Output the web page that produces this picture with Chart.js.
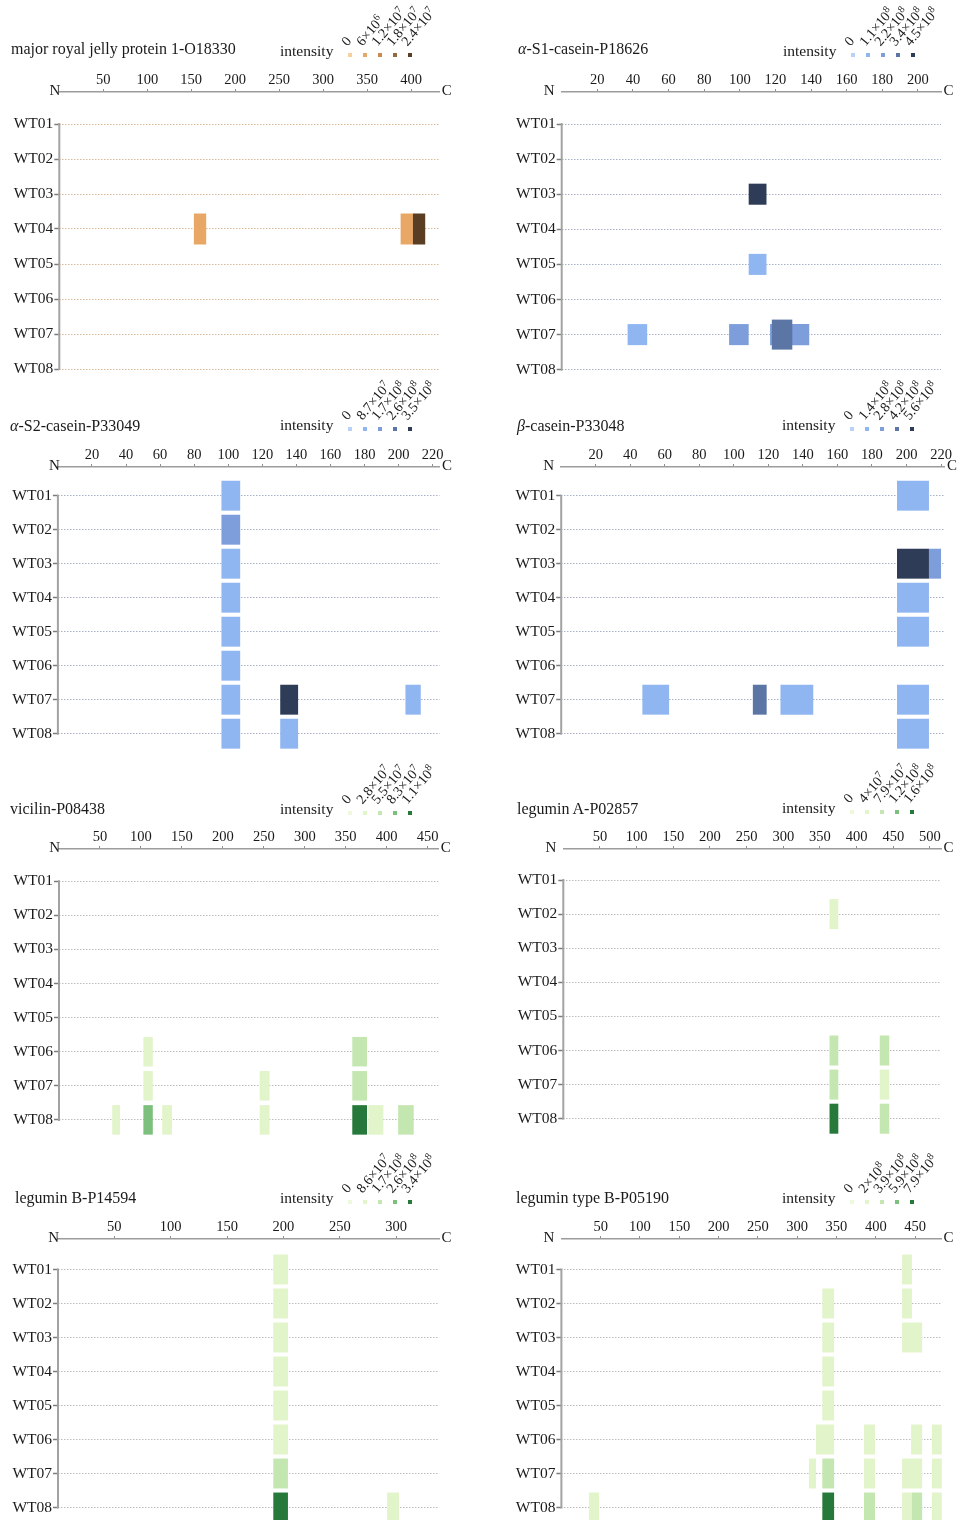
<!DOCTYPE html>
<html lang="en">
<head>
<meta charset="UTF-8">
<title>Peptide coverage per sample</title>
<script src="https://cdn.jsdelivr.net/npm/chart.js@4"></script>
<style>
  html, body { margin: 0; padding: 0; background: #fff; overflow: hidden; }
  body { width: 959px; height: 1520px; position: relative; font-family: 'Liberation Serif', 'Times New Roman', serif; color: #1a1a1a; }
  canvas { position: absolute; }
  .title { position: absolute; font-size: 16px; line-height: 18px; white-space: nowrap; }
  .key { position: absolute; font-size: 15.5px; line-height: 18px; white-space: nowrap; }
  .dot { position: absolute; width: 4px; height: 4px; }
  .lvl { position: absolute; font-size: 14px; line-height: 13px; white-space: nowrap;
         transform-origin: 0 100%; transform: rotate(-50deg); }
  .lvl sup { font-size: 10px; line-height: 0; vertical-align: 5px; }
</style>
</head>
<body>
<script>
// samples (rows)
const rows = ['WT01', 'WT02', 'WT03', 'WT04', 'WT05', 'WT06', 'WT07', 'WT08'];

// peptide = [sample, first residue, last residue, intensity level 1-4]

// major royal jelly protein 1 - O18330
const mrjpTicks = [50, 100, 150, 200, 250, 300, 350, 400];
const mrjpLength = 432;
const mrjpIntensity = [0, 6e6, 1.2e7, 1.8e7, 2.4e7];
const mrjpPeptides = [
  ['WT04', 153, 167, 1],
  ['WT04', 388, 402, 1],
  ['WT04', 402, 416, 4]
];

// alpha-S1-casein - P18626
const as1Ticks = [20, 40, 60, 80, 100, 120, 140, 160, 180, 200];
const as1Length = 213;
const as1Intensity = [0, 1.1e8, 2.2e8, 3.4e8, 4.5e8];
const as1Peptides = [
  ['WT03', 105, 115, 4],
  ['WT05', 105, 115, 1],
  ['WT07', 37, 48, 1],
  ['WT07', 94, 105, 2],
  ['WT07', 117, 139, 2],
  ['WT07', 118, 129.5, 3]
];

// alpha-S2-casein - P33049
const as2Ticks = [20, 40, 60, 80, 100, 120, 140, 160, 180, 200, 220];
const as2Length = 224;
const as2Intensity = [0, 8.7e7, 1.7e8, 2.6e8, 3.5e8];
const as2Peptides = [
  ['WT01', 96, 107, 1],
  ['WT02', 96, 107, 2],
  ['WT03', 96, 107, 1],
  ['WT04', 96, 107, 1],
  ['WT05', 96, 107, 1],
  ['WT06', 96, 107, 1],
  ['WT07', 96, 107, 1],
  ['WT07', 130.5, 141, 4],
  ['WT07', 204, 213, 1],
  ['WT08', 96, 107, 1],
  ['WT08', 130.5, 141, 1]
];

// beta-casein - P33048
const bcnTicks = [20, 40, 60, 80, 100, 120, 140, 160, 180, 200, 220];
const bcnLength = 222;
const bcnIntensity = [0, 1.4e8, 2.8e8, 4.2e8, 5.6e8];
const bcnPeptides = [
  ['WT01', 194.5, 213, 1],
  ['WT03', 194.5, 213, 4],
  ['WT03', 213, 220, 2],
  ['WT04', 194.5, 213, 1],
  ['WT05', 194.5, 213, 1],
  ['WT07', 47, 62.5, 1],
  ['WT07', 111, 119, 3],
  ['WT07', 127, 146, 1],
  ['WT07', 194.5, 213, 1],
  ['WT08', 194.5, 213, 1]
];

// vicilin - P08438
const vicTicks = [50, 100, 150, 200, 250, 300, 350, 400, 450];
const vicLength = 463;
const vicIntensity = [0, 2.8e7, 5.5e7, 8.3e7, 1.1e8];
const vicPeptides = [
  ['WT06', 103, 114.5, 1],
  ['WT06', 358, 376, 2],
  ['WT07', 103, 114.5, 1],
  ['WT07', 245, 257, 1],
  ['WT07', 358, 376, 2],
  ['WT08', 65, 74.5, 1],
  ['WT08', 103, 114.5, 3],
  ['WT08', 126, 138, 1],
  ['WT08', 245, 257, 1],
  ['WT08', 358, 376, 4],
  ['WT08', 377.5, 396, 1],
  ['WT08', 414, 433, 2]
];

// legumin A - P02857
const legaTicks = [50, 100, 150, 200, 250, 300, 350, 400, 450, 500];
const legaLength = 515;
const legaIntensity = [0, 4e7, 7.9e7, 1.2e8, 1.6e8];
const legaPeptides = [
  ['WT02', 363, 375, 1],
  ['WT06', 363, 375, 2],
  ['WT06', 431.5, 444.5, 2],
  ['WT07', 363, 375, 2],
  ['WT07', 431.5, 444.5, 1],
  ['WT08', 363, 375, 4],
  ['WT08', 431.5, 444.5, 2]
];

// legumin B - P14594
const legbTicks = [50, 100, 150, 200, 250, 300];
const legbLength = 338;
const legbIntensity = [0, 8.6e7, 1.7e8, 2.6e8, 3.4e8];
const legbPeptides = [
  ['WT01', 191, 204, 1],
  ['WT02', 191, 204, 1],
  ['WT03', 191, 204, 1],
  ['WT04', 191, 204, 1],
  ['WT05', 191, 204, 1],
  ['WT06', 191, 204, 1],
  ['WT07', 191, 204, 2],
  ['WT08', 191, 204, 4],
  ['WT08', 292, 302.5, 1]
];

// legumin type B - P05190
const legtTicks = [50, 100, 150, 200, 250, 300, 350, 400, 450];
const legtLength = 483;
const legtIntensity = [0, 2e8, 3.9e8, 5.9e8, 7.9e8];
const legtPeptides = [
  ['WT01', 433.5, 446, 1],
  ['WT02', 332, 347, 1],
  ['WT02', 433.5, 446, 1],
  ['WT03', 332, 347, 1],
  ['WT03', 433.5, 459, 1],
  ['WT04', 332, 347, 1],
  ['WT05', 332, 347, 1],
  ['WT06', 324, 347, 1],
  ['WT06', 385, 399, 1],
  ['WT06', 445, 459, 1],
  ['WT06', 471.5, 484, 1],
  ['WT07', 315, 324, 1],
  ['WT07', 332, 347, 2],
  ['WT07', 385, 399, 1],
  ['WT07', 433.5, 459, 1],
  ['WT07', 471.5, 484, 1],
  ['WT08', 35, 48, 1],
  ['WT08', 332, 347, 4],
  ['WT08', 385, 399, 2],
  ['WT08', 433.5, 446, 1],
  ['WT08', 446, 459, 2],
  ['WT08', 471.5, 484, 1]
];

// colour ramps, index = intensity level
const orange = ['#f6cf9f', '#e9a766', '#cf8a52', '#98683f', '#5a3e23'];
const blue   = ['#b9d1f6', '#90b6f2', '#7d9edb', '#5b75a5', '#2f3c58'];
const green  = ['#eef9dc', '#e2f4c9', '#c4e6b0', '#7dbf7d', '#26793b'];

const FONT = "'Liberation Serif', 'Times New Roman', serif";
const AXIS_BAND = 40;   // room above the plot for the residue axis
const ROW_MAX = 7.5;

const panels = [
  { title: 'major royal jelly protein 1-O18330', ticks: mrjpTicks, length: mrjpLength, intensity: mrjpIntensity,
    peptides: mrjpPeptides, colors: orange, grid: '#d9b898',
    left: 0, width: 480, axisY: 92, firstRow: 124, rowGap: 35, plotLeft: 59.3, plotRight: 439.3,
    barPct: 0.886, titleX: 11, titleY: 50, keyX: 280, keyY: 55, nGap: -1 },
  { title: 'α-S1-casein-P18626', ticks: as1Ticks, length: as1Length, intensity: as1Intensity,
    peptides: as1Peptides, colors: blue, grid: '#a9b2c8',
    left: 480, width: 479, axisY: 92, firstRow: 124, rowGap: 35.1, plotLeft: 561.7, plotRight: 941,
    barPct: 0.6, tall: [5], tallPct: 0.855, titleX: 518, titleY: 50, keyX: 783, keyY: 55, nGap: 7 },
  { title: 'α-S2-casein-P33049', ticks: as2Ticks, length: as2Length, intensity: as2Intensity,
    peptides: as2Peptides, colors: blue, grid: '#a9b2c8',
    left: 0, width: 480, axisY: 467.3, firstRow: 496, rowGap: 34, plotLeft: 57.9, plotRight: 439.5,
    barPct: 0.88, titleX: 10, titleY: 427, keyX: 280, keyY: 429, nGap: -2 },
  { title: 'β-casein-P33048', ticks: bcnTicks, length: bcnLength, intensity: bcnIntensity,
    peptides: bcnPeptides, colors: blue, grid: '#a9b2c8',
    left: 480, width: 479, axisY: 467.3, firstRow: 496, rowGap: 34, plotLeft: 561.2, plotRight: 944.5,
    barPct: 0.88, titleX: 517, titleY: 427, keyX: 782, keyY: 429, nGap: 7 },
  { title: 'vicilin-P08438', ticks: vicTicks, length: vicLength, intensity: vicIntensity,
    peptides: vicPeptides, colors: green, grid: '#bcbcbc',
    left: 0, width: 480, axisY: 849, firstRow: 881.2, rowGap: 34.1, plotLeft: 59, plotRight: 438.3,
    barPct: 0.865, titleX: 10, titleY: 810, keyX: 280, keyY: 813, nGap: -1 },
  { title: 'legumin A-P02857', ticks: legaTicks, length: legaLength, intensity: legaIntensity,
    peptides: legaPeptides, colors: green, grid: '#bcbcbc',
    left: 480, width: 479, axisY: 848.5, firstRow: 879.5, rowGap: 34.1, plotLeft: 563.3, plotRight: 941,
    barPct: 0.88, titleX: 517, titleY: 810, keyX: 782, keyY: 812, nGap: 7 },
  { title: 'legumin B-P14594', ticks: legbTicks, length: legbLength, intensity: legbIntensity,
    peptides: legbPeptides, colors: green, grid: '#bcbcbc',
    left: 0, width: 480, axisY: 1238.5, firstRow: 1269, rowGap: 34, plotLeft: 58, plotRight: 439,
    barPct: 0.88, titleX: 15, titleY: 1199, keyX: 280, keyY: 1202, nGap: -1 },
  { title: 'legumin type B-P05190', ticks: legtTicks, length: legtLength, intensity: legtIntensity,
    peptides: legtPeptides, colors: green, grid: '#bcbcbc',
    left: 480, width: 479, axisY: 1238.5, firstRow: 1269, rowGap: 34, plotLeft: 561.4, plotRight: 941,
    barPct: 0.88, titleX: 516, titleY: 1199, keyX: 782, keyY: 1202, nGap: 7 }
];

function sci(v) {
  if (v === 0) return '0';
  const e = Math.floor(Math.log10(v) + 1e-9);
  const m = Math.round(v / Math.pow(10, e) * 10) / 10;
  return m + '×10<sup>' + e + '</sup>';
}

function addDiv(cls, html, left, top, extra) {
  const d = document.createElement('div');
  d.className = cls;
  d.innerHTML = html;
  d.style.left = left + 'px';
  d.style.top = top + 'px';
  if (extra) Object.assign(d.style, extra);
  document.body.appendChild(d);
  return d;
}

// vertical sample axis (only between first and last row) plus the N / C ends
const axisDecor = {
  id: 'axisDecor',
  beforeDatasetsDraw(chart, args, opts) {
    const { ctx, chartArea, scales: { x, y } } = chart;
    ctx.save();
    ctx.strokeStyle = '#a2a2a2';
    ctx.lineWidth = 2;
    ctx.beginPath();
    ctx.moveTo(chartArea.left, y.getPixelForValue(0) - 1);
    ctx.lineTo(chartArea.left, y.getPixelForValue(rows.length - 1) + 1);
    ctx.stroke();
    ctx.fillStyle = '#1a1a1a';
    ctx.font = '15px ' + FONT;
    ctx.textBaseline = 'alphabetic';
    ctx.textAlign = 'right';
    ctx.fillText('N', x.left - opts.nGap, chartArea.top + 3);
    ctx.textAlign = 'left';
    ctx.fillText('C', x.right + 2.5, chartArea.top + 3);
    ctx.restore();
  }
};

function drawPanel(p) {
  // header: title + intensity key
  addDiv('title', p.title.replace(/([αβ])/g, '<i>$1</i>'), p.titleX, p.titleY - 10);
  addDiv('key', 'intensity', p.keyX, p.keyY - 13);
  p.intensity.forEach((v, i) => {
    const cx = p.keyX + 70 + 15 * i;
    addDiv('dot', '', cx - 2, p.keyY - 2, { background: p.colors[i] });
    addDiv('lvl', sci(v), cx - 1, p.keyY - 7 - 13);
  });

  const yMin = -(p.firstRow - p.axisY) / p.rowGap;
  const plotH = (ROW_MAX - yMin) * p.rowGap;
  const h = Math.ceil(AXIS_BAND + plotH);
  const top = p.axisY - AXIS_BAND;

  const cv = document.createElement('canvas');
  cv.width = p.width;
  cv.height = h;
  cv.style.left = p.left + 'px';
  cv.style.top = top + 'px';
  cv.style.width = p.width + 'px';
  cv.style.height = h + 'px';
  document.body.insertBefore(cv, document.body.firstChild);

  const tall = p.tall || [];
  const makeSet = (keep, pct, order) => {
    const list = p.peptides.filter((_, i) => keep(i));
    return {
      data: list.map(([row, a, b]) => ({ x: [a, b], y: rows.indexOf(row) })),
      backgroundColor: list.map(pp => p.colors[pp[3]]),
      borderWidth: 0,
      barPercentage: pct,
      categoryPercentage: 1,
      grouped: false,
      clip: false,
      order: order
    };
  };
  const datasets = [makeSet(i => !tall.includes(i), p.barPct, 1)];
  if (tall.length) datasets.push(makeSet(i => tall.includes(i), p.tallPct, 0));

  new Chart(cv, {
    type: 'bar',
    data: { datasets },
    plugins: [axisDecor],
    options: {
      indexAxis: 'y',
      responsive: false,
      animation: false,
      events: [],
      layout: {
        autoPadding: false,
        padding: { left: 0, top: 0, right: p.left + p.width - p.plotRight, bottom: h - AXIS_BAND - plotH }
      },
      plugins: {
        legend: { display: false },
        tooltip: { enabled: false },
        axisDecor: { nGap: p.nGap }
      },
      scales: {
        x: {
          type: 'linear',
          position: 'top',
          min: 0,
          max: p.length,
          offset: false,
          afterBuildTicks: s => { s.ticks = p.ticks.map(v => ({ value: v })); },
          afterFit: s => { s.height = AXIS_BAND; s.paddingLeft = 0; s.paddingRight = 0; },
          grid: { drawOnChartArea: false, drawTicks: true, tickLength: 3, color: '#8e8e8e', offset: false },
          border: { display: true, color: '#9c9c9c', width: 1.5 },
          ticks: { padding: 0, color: '#1a1a1a', autoSkip: false, maxRotation: 0, font: { family: FONT, size: 14.5 } }
        },
        y: {
          type: 'linear',
          reverse: true,
          min: yMin,
          max: ROW_MAX,
          offset: false,
          afterBuildTicks: s => { s.ticks = rows.map((_, i) => ({ value: i })); },
          afterFit: s => { s.width = p.plotLeft - p.left; s.paddingTop = 0; s.paddingBottom = 0; },
          grid: { offset: false, color: p.grid, lineWidth: 1, tickLength: 5, tickColor: '#7c7c7c', tickWidth: 1.5, tickBorderDash: [] },
          border: { display: false, dash: [1.5, 1.5] },
          ticks: { padding: 1, color: '#1a1a1a', autoSkip: false, font: { family: FONT, size: 15.5 },
                   callback: v => rows[v] }
        }
      }
    }
  });
}

panels.forEach(drawPanel);
</script>
</body>
</html>
